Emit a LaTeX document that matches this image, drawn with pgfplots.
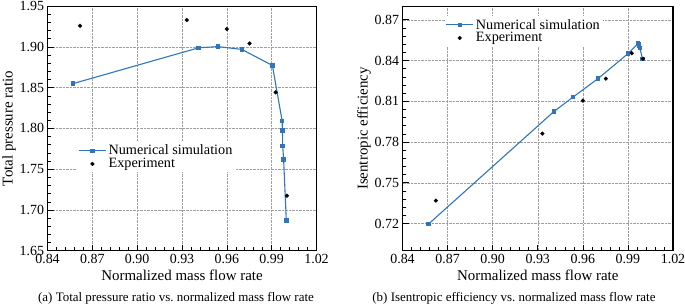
\documentclass[border=0pt]{standalone}
\usepackage{fontspec}
\setmainfont{Liberation Serif}
\usepackage{pgfplots}
\pgfplotsset{compat=1.18}
\definecolor{simblue}{RGB}{46,117,190}
\newcommand\ft{\fontsize{14}{16}\selectfont}
\newcommand\fs{\fontsize{15}{17}\selectfont}
\newcommand\fl{\fontsize{14.3}{16}\selectfont}
\newcommand\fc{\fontsize{13}{15}\selectfont}
\begin{document}
\begin{tikzpicture}
\useasboundingbox (0,0) rectangle (685bp,307bp);
\pgfplotsset{
  myax/.style={
    scale only axis, height=244.5bp,
    xmin=0.84, xmax=1.02,
    xtick={0.84,0.87,0.90,0.93,0.96,0.99,1.02},
    minor x tick num=4, minor y tick num=4,
    tick pos=left, tick align=inside,
    major tick length=6bp, minor tick length=3.5bp,
    /pgf/number format/assume math mode=true,
    /pgf/number format/.cd, fixed, fixed zerofill, precision=2, /pgfplots/.cd,
    grid=major, grid style={densely dotted, gray!75, line width=0.5pt},
    axis line style={line width=1.1pt},
    tick style={line width=0.6pt, black},
    every tick label/.append style={font=\ft},
    every axis label/.append style={font=\fs},
    xlabel style={yshift=1bp},
    ylabel shift=-3bp,
    xlabel={Normalized mass flow rate},
    legend cell align=left,
    every axis legend/.append style={draw=none, fill=white, font=\fl, inner sep=1pt, row sep=-2pt},
    legend image code/.code={\draw[mark repeat=2,mark phase=2] plot coordinates {(0cm,0cm) (0.48cm,0cm) (0.96cm,0cm)};},
  },
  simstyle/.style={color=simblue, line width=1.1pt, mark=square*, mark size=1.7pt, mark options={solid}},
  expstyle/.style={only marks, mark=*, mark size=1.9pt, color=black},
}
\begin{axis}[myax, width=269bp, at={(47.5bp,56.3bp)}, anchor=south west,
  ymin=1.65, ymax=1.95, ytick={1.65,1.70,1.75,1.80,1.85,1.90,1.95},
  ylabel={Total pressure ratio},
  legend style={at={(0.11,0.445)}, anchor=north west}]
\addplot[simstyle] coordinates {
(0.8569,1.8549) (0.9412,1.8990) (0.9540,1.9004) (0.9700,1.8970) (0.9905,1.8773)
(0.9970,1.8093) (0.9972,1.7975) (0.9974,1.7782) (0.9980,1.7618) (0.9998,1.6870)};
\addlegendentry{Numerical simulation}
\addplot[expstyle] coordinates {
(0.8618,1.926) (0.9332,1.933) (0.9600,1.9220) (0.9752,1.9043) (0.9927,1.8443) (1.0002,1.7175)};
\addlegendentry{Experiment}
\end{axis}
\begin{axis}[myax, width=270.5bp, at={(402.5bp,56.3bp)}, anchor=south west,
  ymin=0.70, ymax=0.88, ytick={0.72,0.75,0.78,0.81,0.84,0.87},
  ylabel={Isentropic efficiency},
  legend style={at={(0.155,0.96)}, anchor=north west}]
\addplot[simstyle] coordinates {
(0.8572,0.7195) (0.9407,0.8024) (0.9536,0.8132) (0.9700,0.8266) (0.9902,0.8452)
(0.9968,0.8525) (0.9972,0.8520) (0.9975,0.8510) (0.9980,0.8492) (0.9997,0.8410)};
\addlegendentry{Numerical simulation}
\addplot[expstyle] coordinates {
(0.8622,0.7369) (0.9331,0.7862) (0.9600,0.8105) (0.9753,0.8267) (0.9925,0.8454) (1.0000,0.8413)};
\addlegendentry{Experiment}
\end{axis}
\node[font=\fc] at (176bp,9bp) {(a) Total pressure ratio vs.\ normalized mass flow rate};
\node[font=\fc] at (514bp,9bp) {(b) Isentropic efficiency vs.\ normalized mass flow rate};
\end{tikzpicture}
\end{document}
